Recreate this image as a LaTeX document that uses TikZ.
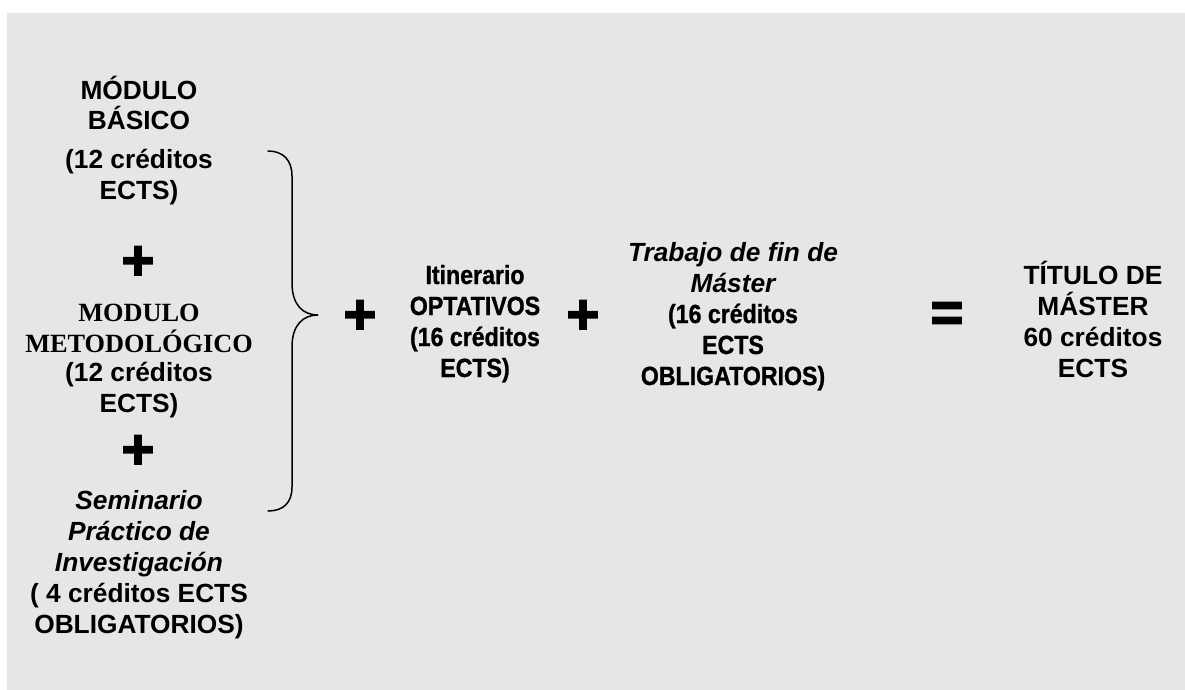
\documentclass[tikz,border=0pt]{standalone}
\usepackage{fontspec}
\setmainfont{Liberation Sans}
\newfontfamily\timesf{Liberation Serif}
\newfontfamily\narrowf{Liberation Sans}[UprightFont={* Bold}, FakeStretch=0.88, FakeBold=1]
\newfontfamily\heavyf{Liberation Sans Bold}[FakeBold=3]
\definecolor{bggray}{RGB}{230,230,230}
\newcommand{\bigsz}{\fontsize{26.3}{31}\selectfont}
\begin{document}
\begin{tikzpicture}[x=1pt,y=-1pt,
  txt/.style={font=\bigsz\bfseries, align=center, inner sep=0pt, anchor=base},
  narrowtxt/.style={font=\bigsz\narrowf, align=center, inner sep=0pt, anchor=base},
  serif/.style={font=\bigsz\timesf\bfseries, align=center, inner sep=0pt, anchor=base},
  op/.style={font=\fontsize{56}{56}\selectfont\heavyf, inner sep=0pt, anchor=center},
  bracestyle/.style={line width=1.5pt, line cap=round}]
\useasboundingbox (0,0) rectangle (1185,690);
\fill[bggray] (7,13) rectangle (1185,690);
% left column
\node[txt] (basico) at (139,130) {MÓDULO\\BÁSICO};
\node[txt] (credA) at (139,199) {(12 créditos\\ECTS)};
\node[op] (plusA) at (138,263) {+};
\node[serif] (metod) at (139,352) {MODULO\\METODOLÓGICO};
\node[txt] (credB) at (139,412) {(12 créditos\\ECTS)};
\node[op] (plusB) at (138,452) {+};
\node[txt] (semin) at (139,571) {\itshape Seminario\\\itshape Práctico de\\\itshape Investigación};
\node[txt] (credC) at (139,633) {( 4 créditos ECTS\\OBLIGATORIOS)};
% brace
\draw[bracestyle] (268,151) .. controls (283,151) and (292,160) .. (292,176)
  -- (292,283) .. controls (292,305) and (303,315) .. (318,315)
  .. controls (303,315) and (292,325) .. (292,347)
  -- (292,487) .. controls (292,503) and (283,511) .. (268,511);
% middle
\node[op] (plusC) at (360,317) {+};
\node[narrowtxt] (itin) at (475,377) {Itinerario\\OPTATIVOS\\(16 créditos\\ECTS)};
\node[op] (plusD) at (583,317) {+};
\node[narrowtxt] (trab) at (733,385) {\normalfont\bigsz\bfseries\itshape Trabajo de fin de\\\normalfont\bigsz\bfseries\itshape Máster\\\narrowf(16 créditos\\\narrowf ECTS\\\narrowf OBLIGATORIOS)};
\node[op] (eq) at (947,317) {=};
\node[txt] (titulo) at (1093,377) {TÍTULO DE\\MÁSTER\\60 créditos\\ECTS};
\end{tikzpicture}
\end{document}
